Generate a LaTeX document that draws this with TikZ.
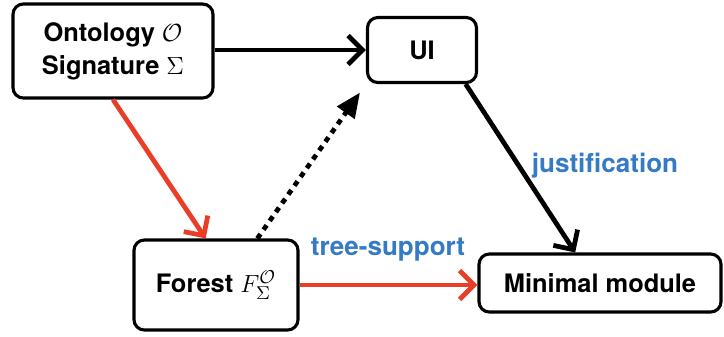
\documentclass[tikz,border=0pt]{standalone}
\usepackage{fontspec}
\setmainfont{TeX Gyre Heros}
\usetikzlibrary{arrows.meta}
\definecolor{arrowred}{RGB}{232,62,40}
\definecolor{labelblue}{RGB}{52,122,196}
\tikzset{
  box/.style={draw, line width=1.5pt, rounded corners=5pt, align=center,
    font=\fontsize{12.3}{16}\selectfont\bfseries},
  link/.style={line width=2.3pt, -{Straight Barb[length=7pt,width=14pt,line width=2.3pt]}},
  tag/.style={text=labelblue, font=\fontsize{12.6}{15}\selectfont\bfseries}
}
\begin{document}
\begin{tikzpicture}[x=0.017cm, y=-0.017cm]
    \useasboundingbox (0,0) rectangle (724,336);
    % Nodes
    \node[box, minimum width=200*0.017cm, minimum height=94*0.017cm] (onto) at (113,51)
      {Ontology $\mathcal{O}$\\ Signature $\Sigma$};
    \node[box, minimum width=109*0.017cm, minimum height=65*0.017cm] (ui) at (422,50) {UI};
    \node[box, minimum width=164*0.017cm, minimum height=90*0.017cm] (forest) at (216,285)
      {Forest $F_\Sigma^{\mathcal{O}}$};
    \node[box, minimum width=242*0.017cm, minimum height=58*0.017cm] (mm) at (600,283) {Minimal module};

    % Edges
    \draw[link] (onto.east |- ui.west) -- (ui.west);                      % to the UI
    \draw[link, arrowred] (onto.south) -- ([xshift=-5pt]forest.north);    % build forest
    \draw[line width=2.3pt, dash pattern=on 2.6pt off 2.6pt, shorten >=5pt,
      -{Triangle[length=12pt,width=10pt]}] ([xshift=20pt]forest.north) -- (ui.south west);
    \draw[link] ([xshift=-6pt]ui.south east) -- ([xshift=-12pt]mm.north); % justification
    \draw[link, arrowred] (forest.east) -- (forest.east -| mm.west);       % tree-support

    % Labels
    \node[tag] (just) at (605,166) {justification};
    \node[tag] (tree) at (388,250) {tree-support};
\end{tikzpicture}
\end{document}
